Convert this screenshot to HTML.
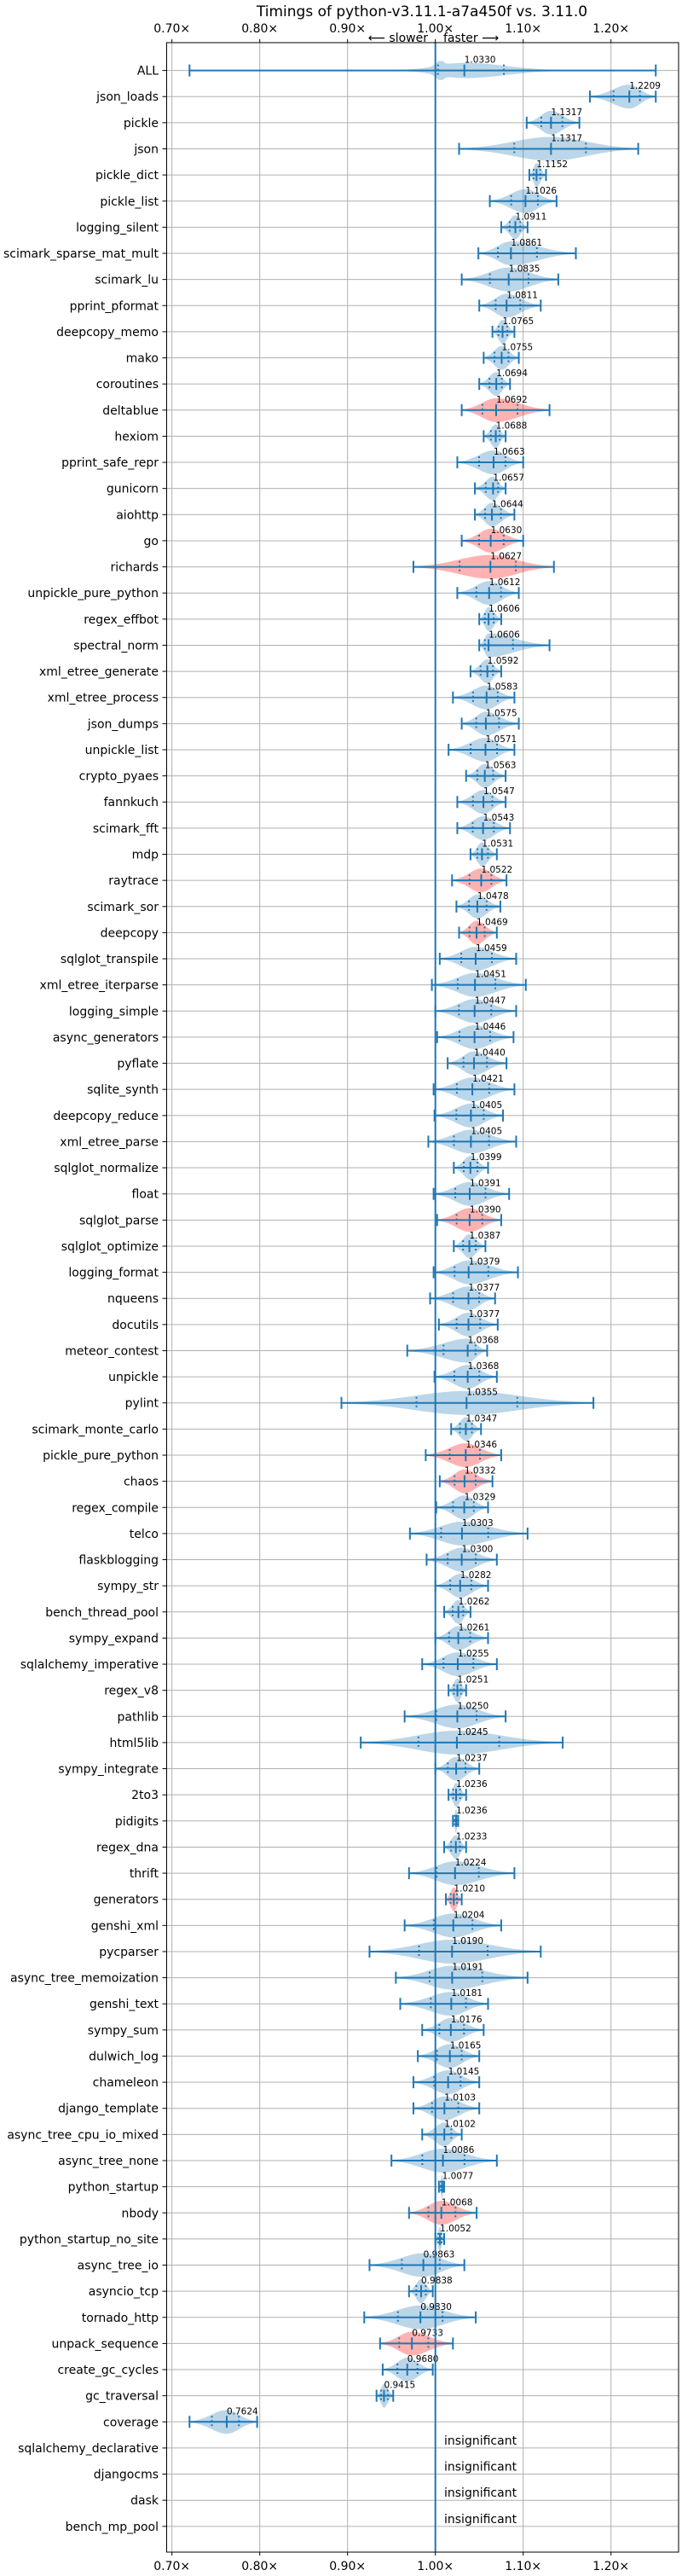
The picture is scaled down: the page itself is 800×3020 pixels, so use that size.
<!DOCTYPE html>
<html><head><meta charset="utf-8">
<style>
html,body{margin:0;padding:0;background:#fff;}
svg{display:block;font-family:"DejaVu Sans","Liberation Sans",sans-serif;}
</style></head>
<body>
<svg id="chart" width="800" height="3020" viewBox="0 0 800 3020" xmlns="http://www.w3.org/2000/svg">
<text x="495" y="19" font-size="17" text-anchor="middle">Timings of python-v3.11.1-a7a450f vs. 3.11.0</text>
<text x="502" y="49" font-size="14" text-anchor="end">⟵ slower</text>
<text x="520" y="49" font-size="14">faster ⟶</text>
<g id="grid"></g>
<g id="marks"></g>
<g id="axes"></g>
</svg>
<script>
const names = ["ALL","json_loads","pickle","json","pickle_dict","pickle_list","logging_silent","scimark_sparse_mat_mult","scimark_lu","pprint_pformat","deepcopy_memo","mako","coroutines","deltablue","hexiom","pprint_safe_repr","gunicorn","aiohttp","go","richards","unpickle_pure_python","regex_effbot","spectral_norm","xml_etree_generate","xml_etree_process","json_dumps","unpickle_list","crypto_pyaes","fannkuch","scimark_fft","mdp","raytrace","scimark_sor","deepcopy","sqlglot_transpile","xml_etree_iterparse","logging_simple","async_generators","pyflate","sqlite_synth","deepcopy_reduce","xml_etree_parse","sqlglot_normalize","float","sqlglot_parse","sqlglot_optimize","logging_format","nqueens","docutils","meteor_contest","unpickle","pylint","scimark_monte_carlo","pickle_pure_python","chaos","regex_compile","telco","flaskblogging","sympy_str","bench_thread_pool","sympy_expand","sqlalchemy_imperative","regex_v8","pathlib","html5lib","sympy_integrate","2to3","pidigits","regex_dna","thrift","generators","genshi_xml","pycparser","async_tree_memoization","genshi_text","sympy_sum","dulwich_log","chameleon","django_template","async_tree_cpu_io_mixed","async_tree_none","python_startup","nbody","python_startup_no_site","async_tree_io","asyncio_tcp","tornado_http","unpack_sequence","create_gc_cycles","gc_traversal","coverage","sqlalchemy_declarative","djangocms","dask","bench_mp_pool"];
const medians = [1.0330,1.2209,1.1317,1.1317,1.1152,1.1026,1.0911,1.0861,1.0835,1.0811,1.0765,1.0755,1.0694,1.0692,1.0688,1.0663,1.0657,1.0644,1.0630,1.0627,1.0612,1.0606,1.0606,1.0592,1.0583,1.0575,1.0571,1.0563,1.0547,1.0543,1.0531,1.0522,1.0478,1.0469,1.0459,1.0451,1.0447,1.0446,1.0440,1.0421,1.0405,1.0405,1.0399,1.0391,1.0390,1.0387,1.0379,1.0377,1.0377,1.0368,1.0368,1.0355,1.0347,1.0346,1.0332,1.0329,1.0303,1.0300,1.0282,1.0262,1.0261,1.0255,1.0251,1.0250,1.0245,1.0237,1.0236,1.0236,1.0233,1.0224,1.0210,1.0204,1.0190,1.0191,1.0181,1.0176,1.0165,1.0145,1.0103,1.0102,1.0086,1.0077,1.0068,1.0052,0.9863,0.9838,0.9830,0.9733,0.9680,0.9415,0.7624,null,null,null,null];
const mins = [0.72,1.176,1.104,1.027,1.107,1.062,1.075,1.049,1.030,1.050,1.065,1.055,1.050,1.030,1.055,1.025,1.045,1.045,1.030,0.975,1.025,1.050,1.050,1.040,1.020,1.030,1.015,1.035,1.025,1.025,1.040,1.019,1.024,1.027,1.005,0.996,1.000,1.002,1.014,0.998,0.999,0.992,1.021,0.998,1.002,1.021,0.998,0.994,1.004,0.968,0.999,0.893,1.018,0.989,1.005,1.001,0.971,0.990,1.000,1.010,1.000,0.985,1.015,0.965,0.915,1.000,1.015,1.020,1.010,0.970,1.012,0.965,0.925,0.955,0.960,0.985,0.980,0.975,0.975,0.985,0.950,1.004,0.970,1.000,0.925,0.970,0.919,0.937,0.940,0.933,0.720,null,null,null,null];
const maxs = [1.251,1.251,1.164,1.231,1.126,1.138,1.105,1.160,1.140,1.120,1.090,1.095,1.085,1.130,1.080,1.100,1.080,1.090,1.100,1.135,1.095,1.075,1.130,1.075,1.090,1.095,1.090,1.080,1.080,1.085,1.070,1.081,1.074,1.070,1.092,1.103,1.092,1.089,1.081,1.090,1.077,1.092,1.060,1.084,1.075,1.057,1.094,1.068,1.071,1.059,1.070,1.180,1.052,1.075,1.065,1.060,1.105,1.070,1.060,1.040,1.060,1.070,1.035,1.080,1.145,1.050,1.035,1.026,1.035,1.090,1.030,1.075,1.120,1.105,1.060,1.055,1.050,1.050,1.050,1.030,1.070,1.010,1.047,1.010,1.033,0.997,1.046,1.020,0.997,0.952,0.797,null,null,null,null];
const q1s = [1.003];
const q3s = [1.078];
const slowerFlags = [0,0,0,0,0,0,0,0,0,0,0,0,0,1,0,0,0,0,1,1,0,0,0,0,0,0,0,0,0,0,0,1,0,1,0,0,0,0,0,0,0,0,0,0,1,0,0,0,0,0,0,0,0,1,1,0,0,0,0,0,0,0,0,0,0,0,0,0,0,0,1,0,0,0,0,0,0,0,0,0,0,0,1,0,0,0,0,1,0,0,0,0,0,0,0];
const xTicks = [0.7,0.8,0.9,1.0,1.1,1.2];
const xTickLabels = ["0.70×","0.80×","0.90×","1.00×","1.10×","1.20×"];

const NS="http://www.w3.org/2000/svg";
const L=195.5,R=796,T=50,B=2992;
function xs(v){return 510.7+(v-1)*1030;}
function ys(i){return 82.6+i*30.63;}
function mk(tag,attrs,parent,text){const e=document.createElementNS(NS,tag);for(const k in attrs)e.setAttribute(k,attrs[k]);if(text!=null)e.textContent=text;parent.appendChild(e);return e;}
const grid=document.getElementById('grid'),marks=document.getElementById('marks'),axes=document.getElementById('axes');

xTicks.forEach((t,k)=>{
  const g=mk('line',{x1:xs(t),x2:xs(t),y1:T,y2:B,stroke:'#b0b0b0','stroke-width':1},grid);
  
  
  const a=mk('text',{x:xs(t),y:38,'font-size':14,'text-anchor':'middle'},axes,xTickLabels[k]);
  
  
  const b=mk('text',{x:xs(t),y:3013,'font-size':14,'text-anchor':'middle'},axes,xTickLabels[k]);
  
  
  mk('line',{x1:xs(t),x2:xs(t),y1:T-4,y2:T,stroke:'#000'},axes);
  mk('line',{x1:xs(t),x2:xs(t),y1:B,y2:B+4,stroke:'#000'},axes);
});
names.forEach((n,i)=>{
  const y=ys(i);
  const g=mk('line',{x1:L,x2:R,y1:y,y2:y,stroke:'#b0b0b0','stroke-width':1},grid);
  
  
  mk('line',{x1:L-5,x2:L,y1:y,y2:y,stroke:'#000'},axes);
  const t=mk('text',{x:186,y:y+5,'font-size':14,'text-anchor':'end'},axes,n);
  
  
});
const blue='#1f77b4';
names.forEach((n,i)=>{
  const y=ys(i),md=medians[i],mn=mins[i],mx=maxs[i];
  if(md===null){
    const t=mk('text',{x:521,y:y-4,'font-size':14},marks,'insignificant');
    
    
    return;
  }
  const g=mk('g',{},marks);
  
  
  const q1=(q1s[i]!=null)?q1s[i]:md-(md-mn)*0.4;
  const q3=(q3s[i]!=null)?q3s[i]:md+(mx-md)*0.4;
  const sl=(md-q1)*2.5, sr=(q3-md)*2.5;
  const peak=(q1s[i]!=null)?9:14,N=120;
  const top=[],bot=[];
  for(let k=0;k<=N;k++){
    const v=mn+(mx-mn)*k/N;
    let t=v<md?(md-v)/Math.max(sl,1e-6):(v-md)/Math.max(sr,1e-6);
    let w=peak*Math.exp(-3*t*t);
    if(q1s[i]!=null){ w+= 6*Math.exp(-Math.pow((v-1.005)/0.004,2)/2); }
    w=Math.max(w,0.6);
    top.push(xs(v).toFixed(1)+','+(y-w).toFixed(1));
    bot.unshift(xs(v).toFixed(1)+','+(y+w).toFixed(1));
  }
  mk('polygon',{points:top.concat(bot).join(' '),fill:slowerFlags[i]?'#ff0000':blue,'fill-opacity':0.3},g);
  mk('line',{x1:xs(mn),x2:xs(mx),y1:y,y2:y,stroke:blue,'stroke-width':2},g);
  [mn,mx,md].forEach(v=>mk('line',{x1:xs(v),x2:xs(v),y1:y-7,y2:y+7,stroke:blue,'stroke-width':2},g));
  [q1,q3].forEach(v=>mk('line',{x1:xs(v),x2:xs(v),y1:y-7,y2:y+7,stroke:blue,'stroke-width':2,'stroke-dasharray':'2,3'},g));
  const lab=mk('text',{x:xs(md),y:y-9,'font-size':10.5},g,md.toFixed(4));
  
  
});
const ref=mk('line',{x1:xs(1),x2:xs(1),y1:T,y2:B,stroke:blue,'stroke-width':2},marks);


const frame=mk('rect',{x:L,y:T,width:R-L,height:B-T,fill:'none',stroke:'#000','stroke-width':1},axes);


</script>
</body></html>
